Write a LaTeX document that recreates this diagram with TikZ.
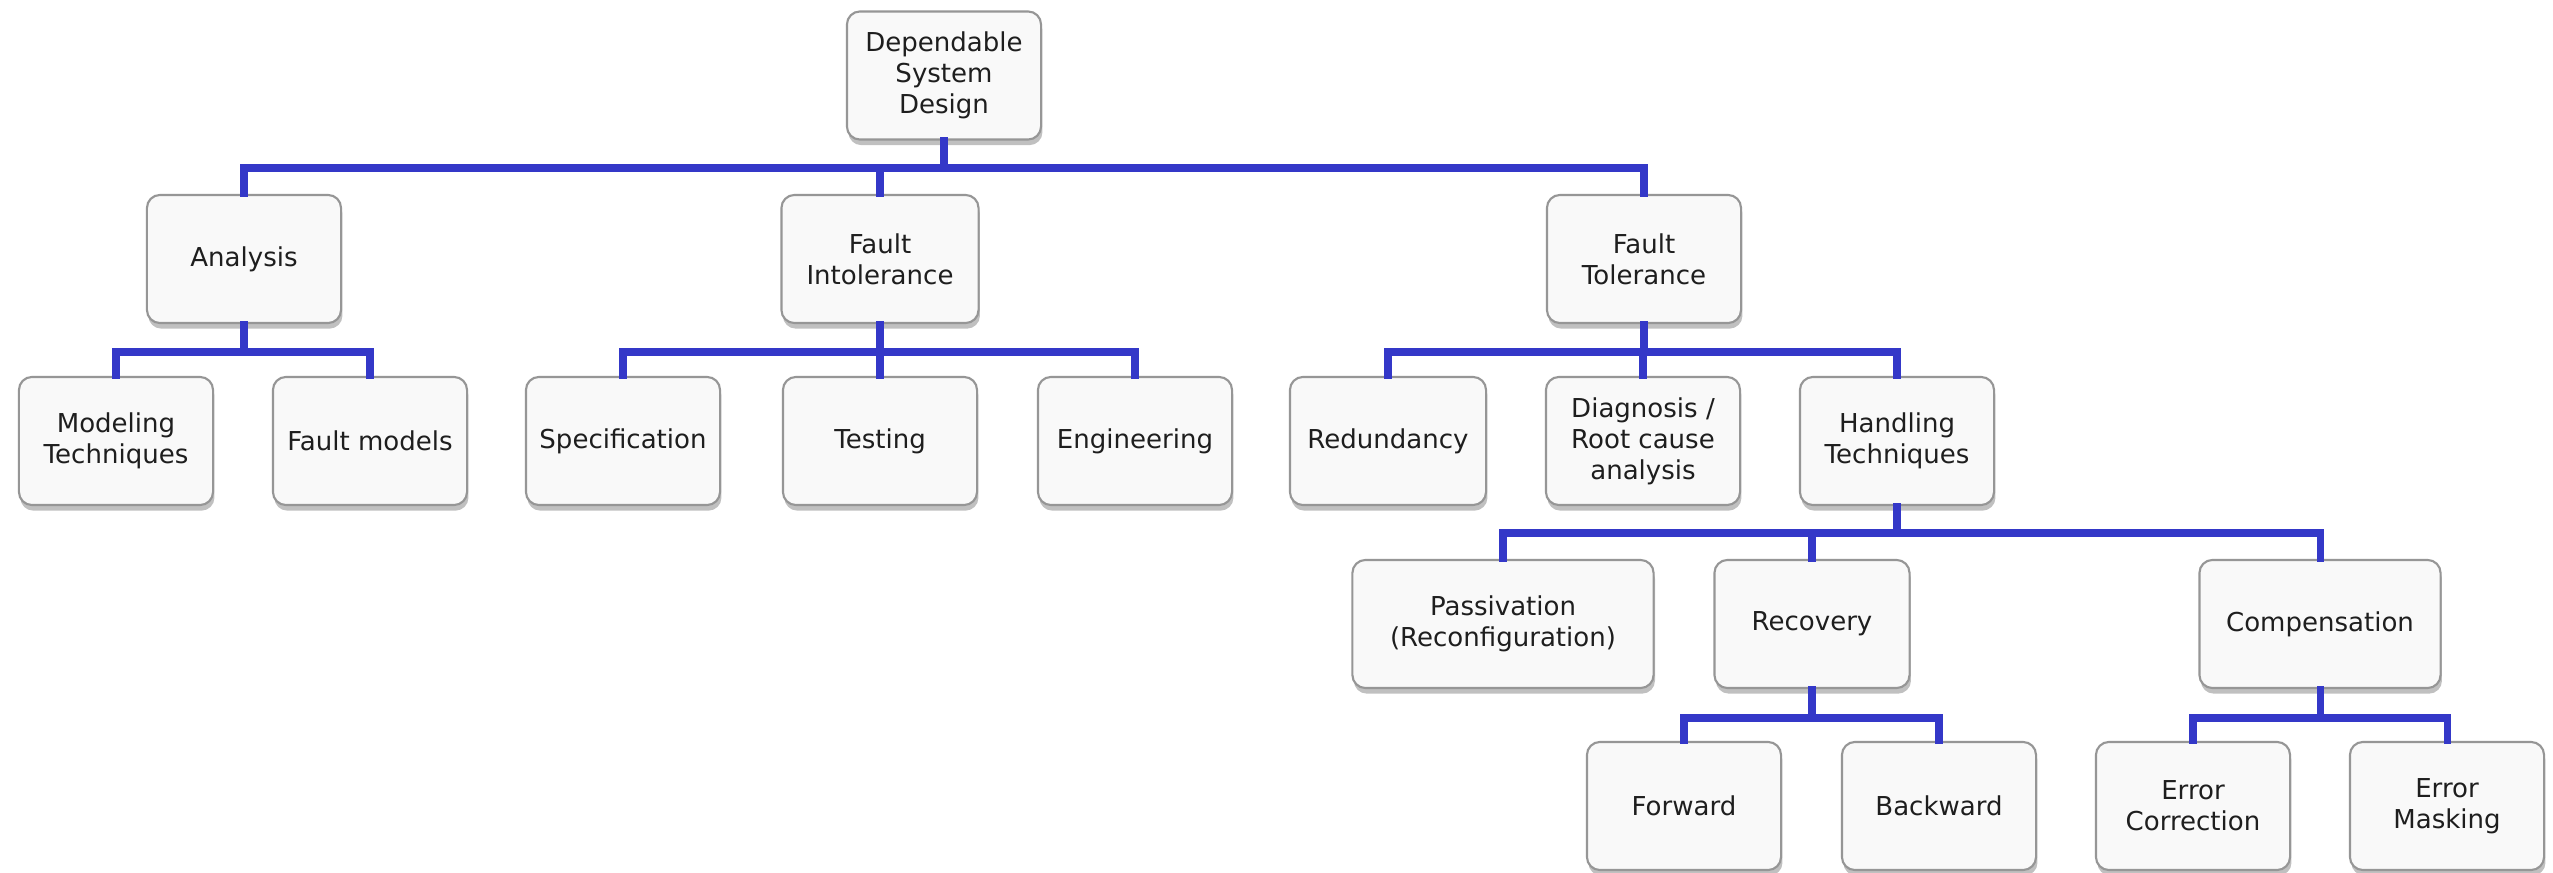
\documentclass[tikz,border=0pt]{standalone}
\usepackage{fontspec}
\setmainfont{DejaVu Sans}
\usetikzlibrary{shadows}
\definecolor{busblue}{RGB}{52,56,200}
\definecolor{boxfill}{RGB}{249,249,249}
\definecolor{boxline}{RGB}{150,150,150}
\definecolor{txt}{RGB}{30,30,30}
\tikzset{
  box/.style={draw=boxline, line width=0.6pt, fill=boxfill, rounded corners=0.13cm,
    minimum width=1.94cm, minimum height=1.28cm, inner sep=1pt, align=center,
    text=txt, font=\fontsize{7.4}{8.8}\selectfont,
    drop shadow={shadow xshift=0.4pt, shadow yshift=-1.6pt, opacity=0.35, fill=black!70}},
  conn/.style={draw=busblue, line width=2pt, line cap=rect, line join=miter}
}
\begin{document}
\begin{tikzpicture}[x=0.01cm,y=-0.01cm]
\useasboundingbox[fill=white] (0,0) rectangle (2553,873);
% nodes
\node[box] (root) at (944,75.5) {Dependable\\System\\Design};
\node[box] (ana) at (244,259) {Analysis};
\node[box, minimum width=1.97cm] (fi) at (880,259) {Fault\\Intolerance};
\node[box] (ft) at (1644,259) {Fault\\Tolerance};
\node[box] (mod) at (116,441) {Modeling\\Techniques};
\node[box] (fm) at (370,441) {Fault models};
\node[box] (spec) at (623,441) {Specification};
\node[box] (test) at (880,441) {Testing};
\node[box] (eng) at (1135,441) {Engineering};
\node[box, minimum width=1.96cm] (red) at (1388,441) {Redundancy};
\node[box] (diag) at (1643,441) {Diagnosis /\\Root cause\\analysis};
\node[box] (hand) at (1897,441) {Handling\\Techniques};
\node[box, minimum width=3.01cm] (pass) at (1503,624) {Passivation\\(Reconfiguration)};
\node[box, minimum width=1.95cm] (rec) at (1812,624) {Recovery};
\node[box, minimum width=2.41cm] (comp) at (2320,624) {Compensation};
\node[box] (fwd) at (1684,806) {Forward};
\node[box] (bwd) at (1939,806) {Backward};
\node[box] (ec) at (2193,806) {Error\\Correction};
\node[box] (em) at (2447,806) {Error\\Masking};
% bus levels
\coordinate (b0) at (0,168);
\coordinate (b1) at (0,352);
\coordinate (b2) at (0,533);
\coordinate (b3) at (0,718);
% connectors
\foreach \p/\c/\b in {root/ana/b0, root/fi/b0, root/ft/b0,
  ana/mod/b1, ana/fm/b1, fi/spec/b1, fi/test/b1, fi/eng/b1,
  ft/red/b1, ft/diag/b1, ft/hand/b1,
  hand/pass/b2, hand/rec/b2, hand/comp/b2,
  rec/fwd/b3, rec/bwd/b3, comp/ec/b3, comp/em/b3}
  \draw[conn] (\p.south) -- (\p.south |- \b) -| (\c.north);
\end{tikzpicture}
\end{document}
